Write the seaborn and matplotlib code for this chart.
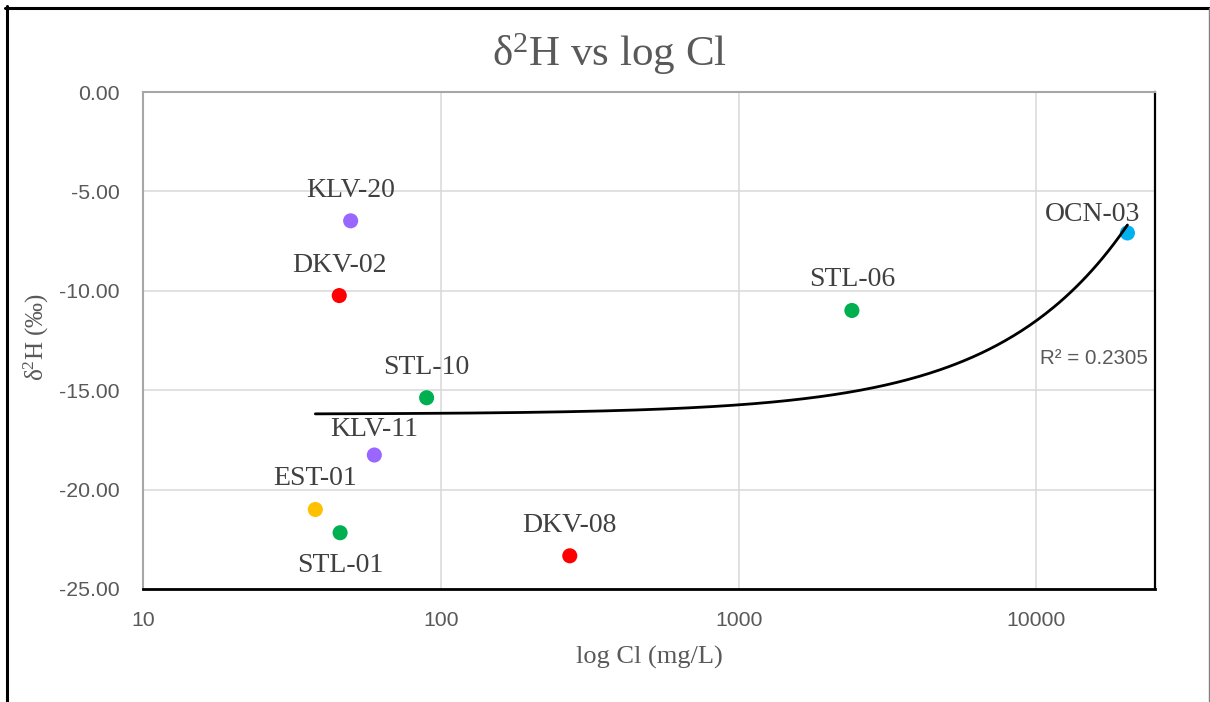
import numpy as np
import pandas as pd
import matplotlib
matplotlib.use("Agg")
import matplotlib.pyplot as plt
import seaborn as sns
from matplotlib.lines import Line2D
from matplotlib.ticker import FixedLocator, FixedFormatter, NullLocator

# ---------------- data ----------------
samples = ["KLV-20", "DKV-02", "STL-10", "KLV-11", "EST-01", "STL-01", "DKV-08", "STL-06", "OCN-03"]
cl_mg_l = [49.8, 45.6, 89.6, 59.8, 37.9, 45.9, 271, 2400, 20200]
d2h = [-6.48, -10.24, -15.38, -18.26, -21.0, -22.17, -23.33, -10.99, -7.09]
point_colors = ["#9966FF", "#FF0000", "#00B050", "#9966FF", "#FFC000",
                "#00B050", "#FF0000", "#00B050", "#00B0F0"]
x_ticks = [10, 100, 1000, 10000]
x_tick_labels = ["10", "100", "1000", "10000"]
y_ticks = [0, -5, -10, -15, -20, -25]
r2_label = "R² = 0.2305"

df = pd.DataFrame({"sample": samples, "cl": cl_mg_l, "d2h": d2h})
palette = dict(zip(samples, point_colors))

# ---------------- style ----------------
sns.set_theme(style="white")
plt.rcParams["font.family"] = ["Liberation Serif", "DejaVu Serif"]
plt.rcParams["axes.unicode_minus"] = False
plt.rcParams["mathtext.fontset"] = "custom"
plt.rcParams["mathtext.rm"] = "Liberation Serif"
plt.rcParams["mathtext.it"] = "Liberation Serif:italic"
plt.rcParams["mathtext.bf"] = "Liberation Serif:bold"
plt.rcParams["mathtext.default"] = "rm"

text_gray = "#595959"
tick_font = ["Liberation Sans", "DejaVu Sans"]

fig = plt.figure(figsize=(12.1, 7.02), dpi=100)
ax = fig.add_axes([143 / 1210, 1 - 589 / 702, (1155 - 143) / 1210, (589 - 92) / 702])

sns.scatterplot(data=df, x="cl", y="d2h", hue="sample", palette=palette,
                s=118, linewidth=0, legend=False, ax=ax, zorder=3)

# linear trendline (Excel style: linear fit in x, drawn on log axis)
slope, intercept = np.polyfit(np.array(cl_mg_l), np.array(d2h), 1)
xs = np.geomspace(min(cl_mg_l), max(cl_mg_l), 300)
ax.plot(xs, slope * xs + intercept, color="black", lw=2.0, zorder=4)

ax.set_xscale("log")
ax.set_xlim(10, 25000)
ax.set_ylim(-25, 0)

ax.xaxis.set_major_locator(FixedLocator(x_ticks))
ax.xaxis.set_major_formatter(FixedFormatter(x_tick_labels))
ax.xaxis.set_minor_locator(NullLocator())
ax.set_yticks(y_ticks)
ax.set_yticklabels([f"{v:.2f}" for v in y_ticks])

for lab in ax.get_xticklabels() + ax.get_yticklabels():
    lab.set_family(tick_font)
    lab.set_fontsize(15.3)
    lab.set_color(text_gray)
ax.tick_params(axis="x", length=0, pad=16)
ax.tick_params(axis="y", length=0, pad=17)

ax.grid(True, which="major", color="#D9D9D9", lw=1.1)
ax.set_axisbelow(True)

for side in ["top", "left"]:
    ax.spines[side].set_color("#A6A6A6")
    ax.spines[side].set_linewidth(1.5)
ax.spines["right"].set_color("black")
ax.spines["right"].set_linewidth(1.6)
ax.spines["bottom"].set_color("black")
ax.spines["bottom"].set_linewidth(2.0)

# data labels
offsets = {"STL-01": (0, -28.5), "OCN-03": (-25, 8.4), "KLV-11": (0, 13.7)}
for name, xv, yv in zip(samples, cl_mg_l, d2h):
    dx, dy = offsets.get(name, (0, 17.3))
    ax.annotate(name, (xv, yv), xytext=(dx, dy), textcoords="offset points",
                ha="center", va="baseline", fontsize=20, color="#404040")

ax.text(0.993, 0.452, r2_label, transform=ax.transAxes, ha="right", va="baseline",
        fontsize=14.8, color=text_gray, family=tick_font)

ax.set_xlabel("log Cl (mg/L)", fontsize=19, color=text_gray)
ax.set_ylabel("δ$^{2}$H (‰)", fontsize=18, color=text_gray)
ax.xaxis.set_label_coords(0.5, -0.115)
ax.yaxis.set_label_coords(-0.091, 0.508)

fig.text(609 / 1210, 1 - 54 / 702, "δ$^{2}$H vs log Cl", ha="center", va="center",
         fontsize=31, color=text_gray)

# outer chart border (cropped frame)
fig.add_artist(Line2D([6.5 / 1210, 6.5 / 1210], [0, 1 - 6 / 702], transform=fig.transFigure,
                      color="black", lw=2.2))
fig.add_artist(Line2D([5 / 1210, 1208.5 / 1210], [1 - 7.5 / 702, 1 - 7.5 / 702],
                      transform=fig.transFigure, color="black", lw=2.2))
fig.add_artist(Line2D([1208.5 / 1210, 1208.5 / 1210], [0, 1 - 7.5 / 702],
                      transform=fig.transFigure, color="#808080", lw=1.0))

fig.savefig("out.png", dpi=100, facecolor="white")
